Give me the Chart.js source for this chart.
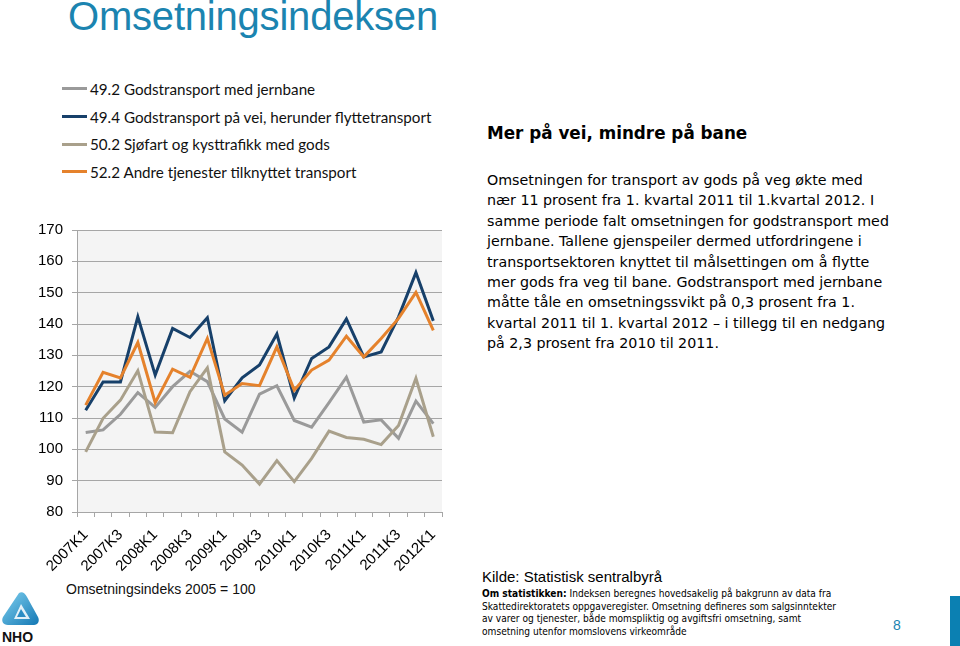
<!DOCTYPE html>
<html lang="no">
<head>
<meta charset="utf-8">
<title>Omsetningsindeksen</title>
<script src="https://cdn.jsdelivr.net/npm/chart.js@4.4.1/dist/chart.umd.min.js"></script>
<style>
    body { margin: 0; width: 960px; height: 646px; background: #fff; position: relative; overflow: hidden; font-family: "Liberation Sans", Arial, sans-serif; }
    .abs { position: absolute; }
    #tittel { left: 68px; top: -6px; font-size: 40px; color: #1b84b0; letter-spacing: -0.2px; }
    #grafBoks { left: 0; top: 215px; width: 450px; height: 365px; }
    #legende { left: 62px; top: 75px; font-family: Lato, "Noto Sans", sans-serif; font-size: 15.2px; color: #111; }
    #legende div { height: 27.7px; display: flex; align-items: center; }
    #legende span.strek { display: inline-block; width: 25px; height: 3px; margin-right: 3px; }
    #kildeIndeks { left: 66px; top: 581px; font-size: 14px; color: #111; }
    #overskrift { left: 487px; top: 123px; font-family: "DejaVu Sans", Verdana, sans-serif; font-weight: bold; font-size: 16.8px; color: #000; }
    #tekst { left: 487px; top: 170px; font-family: "DejaVu Sans", Verdana, sans-serif; font-size: 14.25px; line-height: 20.4px; color: #000; }
    #kilde { left: 482px; top: 568px; font-family: "Liberation Sans Narrow", "Liberation Sans", sans-serif; font-size: 15px; color: #000; }
    #omStat { left: 482px; top: 588px; font-family: "DejaVu Sans Condensed", "DejaVu Sans", sans-serif; font-size: 10.1px; line-height: 12.6px; color: #000; }
    #side { left: 893px; top: 617px; font-size: 14px; color: #1b84b0; }
    #blaaStripe { left: 950px; top: 596px; width: 10px; height: 50px; background: #0b80b2; }
    #logo { left: 0; top: 590px; width: 42px; height: 56px; }
</style>
</head>
<body>
<div id="tittel" class="abs">Omsetningsindeksen</div>
<div id="grafBoks" class="abs"><canvas id="omsetningGraf"></canvas></div>
<div id="legende" class="abs"></div>
<div id="kildeIndeks" class="abs">Omsetningsindeks 2005 = 100</div>

<div id="overskrift" class="abs">Mer på vei, mindre på bane</div>
<div id="tekst" class="abs">
Omsetningen for transport av gods på veg økte med<br>
nær 11 prosent fra 1. kvartal 2011 til 1.kvartal 2012. I<br>
samme periode falt omsetningen for godstransport med<br>
jernbane. Tallene gjenspeiler dermed utfordringene i<br>
transportsektoren knyttet til målsettingen om å flytte<br>
mer gods fra veg til bane. Godstransport med jernbane<br>
måtte tåle en omsetningssvikt på 0,3 prosent fra 1.<br>
kvartal 2011 til 1. kvartal 2012 – i tillegg til en nedgang<br>
på 2,3 prosent fra 2010 til 2011.
</div>

<div id="kilde" class="abs">Kilde: Statistisk sentralbyrå</div>
<div id="omStat" class="abs">
<b>Om statistikken:</b> Indeksen beregnes hovedsakelig på bakgrunn av data fra<br>
Skattedirektoratets oppgaveregister. Omsetning defineres som salgsinntekter<br>
av varer og tjenester, både momspliktig og avgiftsfri omsetning, samt<br>
omsetning utenfor momslovens virkeområde
</div>
<div id="side" class="abs">8</div>
<div id="blaaStripe" class="abs"></div>

<svg id="logo" class="abs" viewBox="0 0 42 56">
    <defs>
        <linearGradient id="lg" x1="0" y1="0" x2="1" y2="1">
            <stop offset="0" stop-color="#7fd0ef"/>
            <stop offset="1" stop-color="#1478b4"/>
        </linearGradient>
    </defs>
    <path d="M19 3 C22 1 25 3 27 7 L38 27 C40 31 38 35 34 35 L8 35 C3 35 1 31 3 27 Z" fill="url(#lg)"/>
    <path d="M21 14 L30 29 L14 29 Z" fill="#fff" opacity="0.85"/>
    <path d="M21 19 L26 27 L17 27 Z" fill="#2a8cc4"/>
    <text x="2" y="52" font-family="Liberation Sans, Arial, sans-serif" font-size="14" font-weight="bold" fill="#111">NHO</text>
</svg>

<script>
// Kvartaler og indeksverdier (2005 = 100), lest av figuren
const kvartaler = [
    '2007K1', '2007K2', '2007K3', '2007K4', '2008K1', '2008K2', '2008K3', '2008K4',
    '2009K1', '2009K2', '2009K3', '2009K4', '2010K1', '2010K2', '2010K3', '2010K4',
    '2011K1', '2011K2', '2011K3', '2011K4', '2012K1'
];
const jernbane = [105.4, 106.2, 111.2, 118.1, 113.4, 120.0, 124.9, 121.6, 109.7, 105.5, 117.6, 120.3, 109.2, 107.1, 114.9, 123.0, 108.7, 109.4, 103.5, 115.4, 108.2];
const vei = [112.5, 121.5, 121.5, 142.3, 123.7, 138.6, 135.7, 142.0, 115.5, 122.8, 126.9, 136.8, 116.4, 129.0, 132.7, 141.6, 129.5, 131.1, 142.3, 156.4, 141.0];
const sjofart = [99.2, 109.9, 115.7, 125.1, 105.5, 105.3, 118.4, 126.0, 99.2, 95.0, 88.9, 96.4, 89.7, 97.1, 105.8, 103.8, 103.2, 101.5, 107.6, 122.7, 104.0];
const andre = [114.1, 124.6, 122.8, 134.1, 114.9, 125.6, 123.0, 135.4, 117.3, 121.0, 120.3, 132.7, 118.9, 125.3, 128.5, 136.1, 129.5, 135.4, 141.8, 150.1, 138.0];

const serieNavn = [
    '49.2 Godstransport med jernbane',
    '49.4 Godstransport på vei, herunder flyttetransport',
    '50.2 Sjøfart og kysttrafikk med gods',
    '52.2 Andre tjenester tilknyttet transport'
];
const serieFarger = ['#9a9a9a', '#17406a', '#a9a08b', '#e5822c'];
const serieData = [jernbane, vei, sjofart, andre];

const yMin = 80;
const yMax = 170;
const ySteg = 10;

// Grå bakgrunn i plotteområdet
const plotBakgrunn = {
    id: 'plotBakgrunn',
    beforeDraw(chart) {
        const { ctx, chartArea } = chart;
        ctx.save();
        ctx.fillStyle = '#f4f4f4';
        ctx.fillRect(chartArea.left, chartArea.top, chartArea.right - chartArea.left, chartArea.bottom - chartArea.top);
        ctx.restore();
    }
};

const datasets = serieData.map((data, i) => ({
    label: serieNavn[i],
    data: data,
    borderColor: serieFarger[i],
    backgroundColor: serieFarger[i],
    borderWidth: 3,
    pointRadius: 0,
    tension: 0,
    order: serieData.length - i // siste serie tegnes øverst, som i Excel
}));

const graf = new Chart(document.getElementById('omsetningGraf'), {
    type: 'line',
    data: { labels: kvartaler, datasets: datasets },
    options: {
        responsive: true,
        maintainAspectRatio: false,
        animation: false,
        layout: { padding: { top: 15, right: 8, left: 0, bottom: 0 } },
        plugins: {
            legend: { display: false },
            tooltip: { enabled: false }
        },
        scales: {
            x: {
                offset: true,
                grid: { offset: true, drawOnChartArea: false, drawTicks: true, tickLength: 5, color: '#a6a6a6' },
                border: { color: '#a6a6a6' },
                ticks: {
                    autoSkip: false,
                    maxRotation: 45,
                    minRotation: 45,
                    padding: 9,
                    color: '#000',
                    font: { family: '"Liberation Sans", Arial, sans-serif', size: 15 },
                    callback(value, index) {
                        return index % 2 === 0 ? this.getLabelForValue(value) : '';
                    }
                },
                afterFit(scale) {
                    scale.height = 68;
                    scale.paddingLeft = 0;
                    scale.paddingRight = 0;
                }
            },
            y: {
                min: yMin,
                max: yMax,
                ticks: {
                    stepSize: ySteg,
                    padding: 9,
                    color: '#000',
                    font: { family: '"Liberation Sans", Arial, sans-serif', size: 15 }
                },
                grid: { color: '#a6a6a6', tickLength: 5 },
                border: { color: '#a6a6a6' },
                afterFit(scale) {
                    scale.width = 77;
                    scale.paddingTop = 0;
                    scale.paddingBottom = 0;
                }
            }
        }
    },
    plugins: [plotBakgrunn]
});

// Legende bygget fra datasettene
const legende = document.getElementById('legende');
graf.data.datasets.forEach((ds) => {
    const rad = document.createElement('div');
    const strek = document.createElement('span');
    strek.className = 'strek';
    strek.style.background = ds.borderColor;
    rad.appendChild(strek);
    rad.appendChild(document.createTextNode(ds.label));
    legende.appendChild(rad);
});
</script>
</body>
</html>
